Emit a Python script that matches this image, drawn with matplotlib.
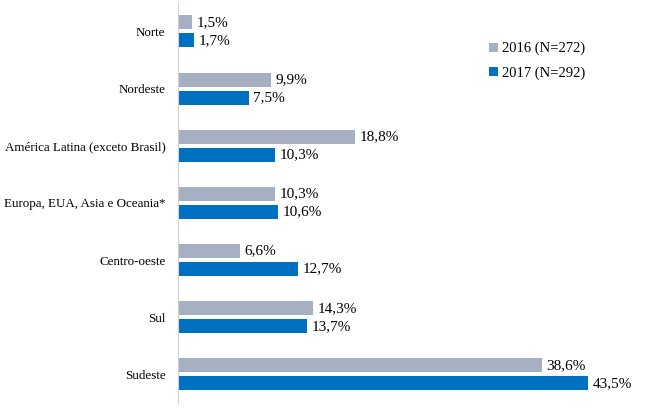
import matplotlib.pyplot as plt
import numpy as np

categories = ['Norte', 'Nordeste', 'América Latina (exceto Brasil)',
              'Europa, EUA, Asia e Oceania*', 'Centro-oeste', 'Sul', 'Sudeste']
vals_2016 = [1.5, 9.9, 18.8, 10.3, 6.6, 14.3, 38.6]
vals_2017 = [1.7, 7.5, 10.3, 10.6, 12.7, 13.7, 43.5]
series_labels = ['2016 (N=272)', '2017 (N=292)']

plt.rcParams['font.family'] = ['Liberation Serif', 'DejaVu Serif']

fig = plt.figure(figsize=(6.5, 4.11), dpi=100)
ax = fig.add_axes([0.2738, 0.0195, 0.71, 0.9735])

y = np.arange(len(categories))
h = 0.245
off = 0.157
b1 = ax.barh(y - off, vals_2016, height=h, color='#A7AFC2', label=series_labels[0])
b2 = ax.barh(y + off, vals_2017, height=h, color='#0070C0', label=series_labels[1])

def fmt(v):
    return ('%.1f%%' % v).replace('.', ',')

for bars, vals in ((b1, vals_2016), (b2, vals_2017)):
    for rect, v in zip(bars, vals):
        ax.text(v + 0.5, rect.get_y() + rect.get_height() / 2, fmt(v),
                va='center', ha='left', fontsize=11)

ax.set_yticks(y)
ax.set_yticklabels(categories, fontsize=9.4)
ax.set_ylim(len(categories) - 0.5, -0.5)
ax.set_xlim(0, 49)
ax.set_xticks([])
ax.tick_params(axis='y', length=0, pad=9)
for s in ['top', 'right', 'bottom']:
    ax.spines[s].set_visible(False)
ax.spines['left'].set_color('#D0D0D0')

ax.legend(loc='upper left', bbox_to_anchor=(0.645, 0.935), frameon=False,
          fontsize=10.5, handlelength=0.6, handleheight=0.6, handletextpad=0.3,
          labelspacing=0.75)

fig.savefig('out.png', dpi=100)
